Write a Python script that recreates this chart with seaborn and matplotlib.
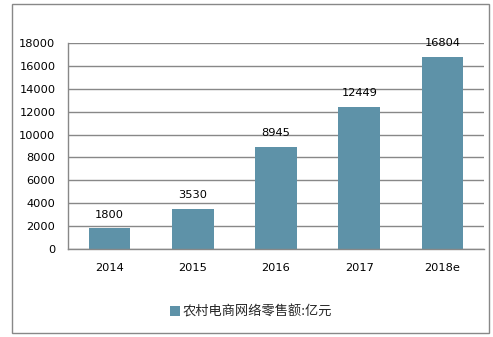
import matplotlib
matplotlib.use("Agg")
import matplotlib.pyplot as plt
import seaborn as sns
import pandas as pd
from matplotlib.patches import Rectangle, Patch

years = ["2014", "2015", "2016", "2017", "2018e"]
values = [1800, 3530, 8945, 12449, 16804]
series_name = "农村电商网络零售额:亿元"

sns.set_theme(style="white")
plt.rcParams['font.family'] = ['DejaVu Sans', 'Noto Sans CJK SC']

df = pd.DataFrame({"year": years, "value": values})

W, H = 493, 337
fig = plt.figure(figsize=(W / 100, H / 100), dpi=100)
ax = fig.add_axes([68 / W, 1 - 249 / H, (484 - 68) / W, (249 - 43) / H])

color = "#5E92A8"
sns.barplot(data=df, x="year", y="value", color=color, width=0.5, ax=ax,
            saturation=1, edgecolor="none")

ax.set_ylim(0, 18000)
ax.set_yticks(range(0, 18001, 2000))
ax.set_xlim(-0.5, 4.5)
ax.set_xlabel("")
ax.set_ylabel("")
ax.yaxis.grid(True, color="#888888", linewidth=1)
ax.set_axisbelow(True)
for s in ["top", "right"]:
    ax.spines[s].set_visible(False)
ax.spines["left"].set_color("#888888")
ax.spines["bottom"].set_color("#888888")
ax.spines["left"].set_linewidth(1)
ax.spines["bottom"].set_linewidth(1)
ax.tick_params(axis="both", length=0, labelsize=8.2, colors="black")
ax.tick_params(axis="y", pad=9)
ax.tick_params(axis="x", pad=10)

for i, v in enumerate(values):
    ax.annotate(str(v), (i, v), xytext=(0, 6), textcoords="offset points",
                ha="center", va="bottom", fontsize=8.2, color="black")

handle = Patch(facecolor=color, edgecolor="none")
fig.legend([handle], [series_name], loc="center", bbox_to_anchor=(251 / W, 1 - 312 / H),
           frameon=False, handlelength=0.7, handleheight=0.7,
           handletextpad=0.2, prop={"family": ["Noto Sans CJK SC", "DejaVu Sans"], "size": 9.5})

fig.patches.append(Rectangle((12 / W, 1 - 333 / H), (489 - 12) / W, (333 - 4) / H,
                             transform=fig.transFigure, fill=False,
                             edgecolor="#888888", linewidth=1))

fig.savefig("out.png", dpi=100)
